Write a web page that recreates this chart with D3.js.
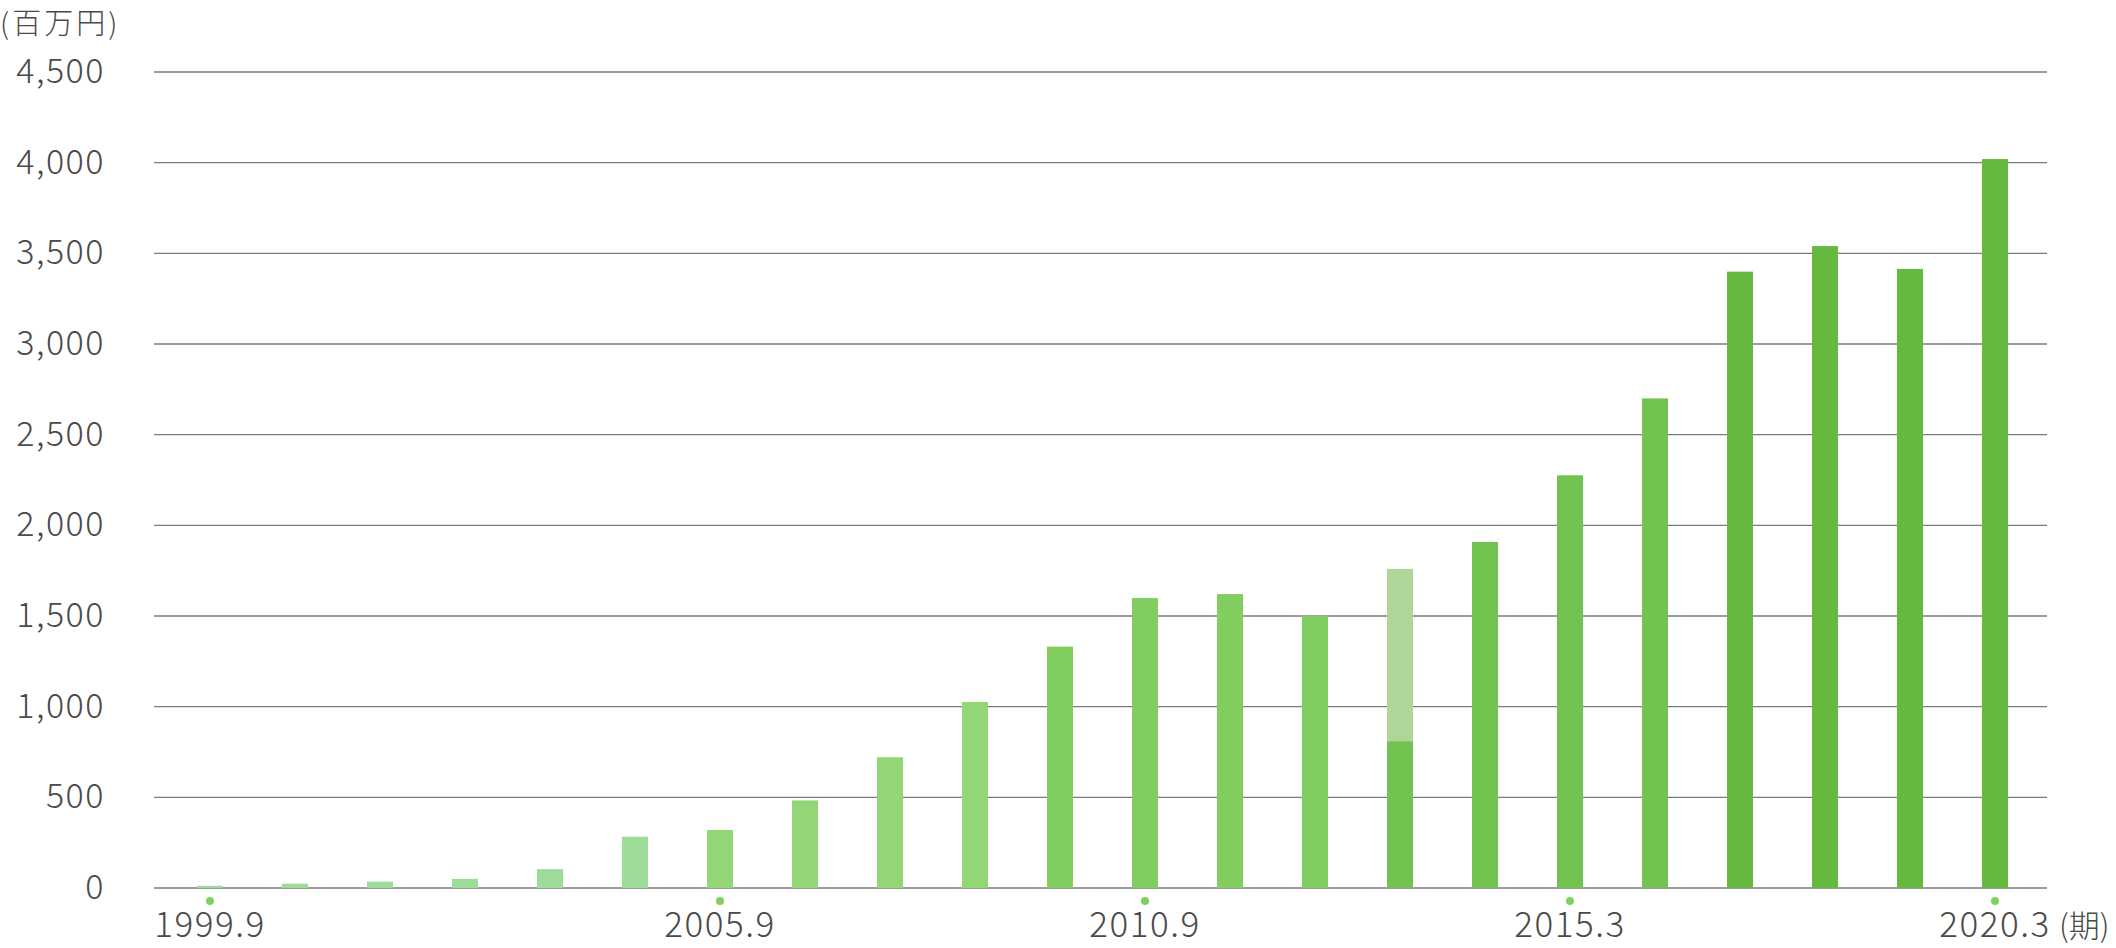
<!DOCTYPE html>
<html>
<head>
<meta charset="utf-8">
<script src="https://cdn.jsdelivr.net/npm/d3@7"></script>
<style>
  html, body { margin: 0; padding: 0; background: #fff; }
  svg { display: block; }
  text { font-family: "Noto Sans CJK JP", "Noto Sans", sans-serif; fill: #4a4a4a; }
</style>
</head>
<body>
<svg id="chart" width="2116" height="948"></svg>
<script>
// ---- data ----
const categories = ["1999.9","2000.9","2001.9","2002.9","2003.9","2004.9","2005.9","2006.9","2007.9","2008.9","2009.9","2010.9","2011.9","2012.9","2013.9","2014.3","2015.3","2016.3","2017.3","2018.3","2019.3","2020.3"];
const baseValues = [12, 24, 35, 50, 104, 283, 320, 483, 721, 1026, 1331, 1599, 1621, 1502, 810, 1908, 2276, 2700, 3399, 3540, 3414, 4020];
const extraValues = [0, 0, 0, 0, 0, 0, 0, 0, 0, 0, 0, 0, 0, 0, 950, 0, 0, 0, 0, 0, 0, 0];
const shownTicks = ["1999.9", "2005.9", "2010.9", "2015.3", "2020.3"];
const yTicks = [0, 500, 1000, 1500, 2000, 2500, 3000, 3500, 4000, 4500];
const unitLabel = "(百万円)";
const periodLabel = "(期)";

// ---- styles ----
const barColors = ["#9cdc98","#9cdc98","#9cdc98","#9cdc98","#9cdc98","#9cdc98",
                   "#93d676","#93d676","#93d676","#93d676",
                   "#81cd60","#81cd60","#81cd60","#81cd60",
                   "#72c34f","#72c34f","#72c34f","#72c34f",
                   "#65b93e","#65b93e","#65b93e","#65b93e"];
const extraColor = "#add698";
const gridColor = "#7a7a7a";
const dotColor = "#80d060";

const svg = d3.select("#chart");
const x = d3.scalePoint().domain(categories).range([210, 1995]);
const y = d3.scaleLinear().domain([0, 4500]).range([888, 72]);
const barW = 26;

// gridlines
svg.append("g").selectAll("line").data(yTicks).join("line")
  .attr("x1", 154).attr("x2", 2047)
  .attr("y1", d => y(d)).attr("y2", d => y(d))
  .attr("stroke", gridColor).attr("stroke-width", 1.3);

// y labels
const fmt = d3.format(",");
svg.append("g").selectAll("text").data(yTicks).join("text")
  .attr("x", 105).attr("y", d => y(d) + 11)
  .attr("text-anchor", "end")
  .attr("font-size", 34).attr("font-weight", 300)
  .attr("letter-spacing", "1.5px")
  .text(d => fmt(d));

// unit label
svg.append("text").attr("x", 0).attr("y", 34)
  .attr("font-size", 29).attr("font-weight", 300)
  .attr("letter-spacing", "3px")
  .text(unitLabel);

// bars
const barData = categories.map((c, i) => ({c, v: baseValues[i], e: extraValues[i], i}));
svg.append("g").selectAll("rect.base").data(barData).join("rect")
  .attr("class", "base")
  .attr("x", d => x(d.c) - barW / 2).attr("width", barW)
  .attr("y", d => y(d.v)).attr("height", d => y(0) - y(d.v))
  .attr("fill", d => barColors[d.i]);
svg.append("g").selectAll("rect.extra").data(barData.filter(d => d.e > 0)).join("rect")
  .attr("class", "extra")
  .attr("x", d => x(d.c) - barW / 2).attr("width", barW)
  .attr("y", d => y(d.v + d.e)).attr("height", d => y(d.v) - y(d.v + d.e))
  .attr("fill", extraColor);

// tick dots and labels
svg.append("g").selectAll("circle").data(shownTicks).join("circle")
  .attr("cx", d => x(d)).attr("cy", 901).attr("r", 4)
  .attr("fill", dotColor);
svg.append("g").selectAll("text").data(shownTicks).join("text")
  .attr("x", d => x(d)).attr("y", 937)
  .attr("text-anchor", "middle")
  .attr("font-size", 35).attr("font-weight", 300)
  .attr("letter-spacing", "1.5px")
  .text(d => d);

svg.append("text").attr("x", 2059).attr("y", 937)
  .attr("font-size", 31).attr("font-weight", 300)
  .text(periodLabel);
</script>
</body>
</html>
